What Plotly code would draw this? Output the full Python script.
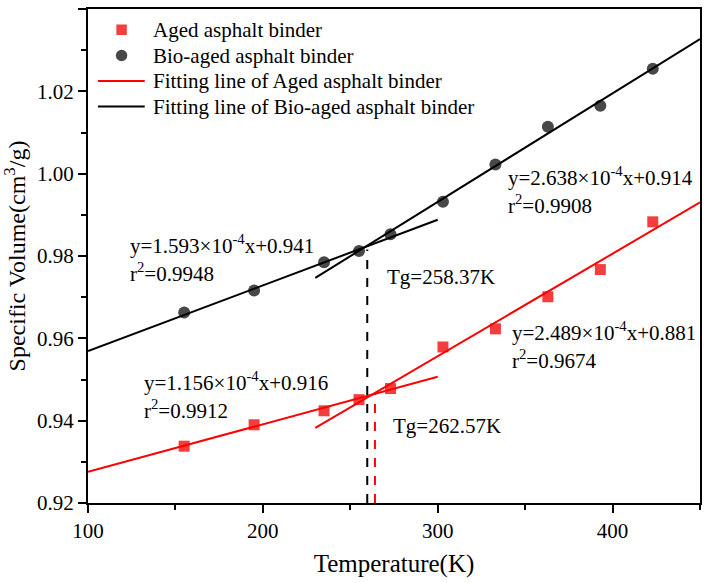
import plotly.graph_objects as go

# ---- data ----
temps = [155, 195, 235, 255, 273, 303, 333, 363, 393, 423]
aged = [0.9338, 0.9390, 0.9424, 0.9451, 0.9478, 0.9579, 0.9623, 0.9701, 0.9767, 0.9883]
bio_aged = [0.9663, 0.9716, 0.9785, 0.9812, 0.9853, 0.9932, 1.0022, 1.0114, 1.0165, 1.0255]

# fitting lines: (slope, intercept, x_start, x_end)
aged_fit_low = (1.156e-4, 0.916, 100, 300)
aged_fit_high = (2.489e-4, 0.881, 230, 450)
bio_fit_low = (1.593e-4, 0.941, 100, 300)
bio_fit_high = (2.638e-4, 0.914, 230, 450)

# Tg markers: (drawn x, top y)
tg_bio = (259.7, 0.9816)
tg_aged = (264.1, 0.9465)

legend_names = ["Aged asphalt binder", "Bio-aged asphalt binder",
                "Fitting line of Aged asphalt binder", "Fitting line of Bio-aged asphalt binder"]

FONT = "Liberation Serif"
RED_M = "#F23E3E"
GREY_M = "#484848"
BLACK = "#000000"

# plot-area geometry (pixels) used only for placing the legend
L, T, W, H = 88, 9, 615, 494


def px(xp):
    return (xp - L) / W


def py(yp):
    return 1 - (yp - T) / H


def fit_xy(*segs):
    xs, ys = [], []
    for k, b, x0, x1 in segs:
        xs += [x0, x1, None]
        ys += [k * x0 + b, k * x1 + b, None]
    return xs, ys


fig = go.Figure()
fig.add_trace(go.Scatter(x=temps, y=aged, mode="markers", name=legend_names[0],
                         marker=dict(symbol="square", size=11, color=RED_M)))
fig.add_trace(go.Scatter(x=temps, y=bio_aged, mode="markers", name=legend_names[1],
                         marker=dict(symbol="circle", size=12, color=GREY_M)))
ax, ay = fit_xy(aged_fit_low, aged_fit_high)
fig.add_trace(go.Scatter(x=ax, y=ay, mode="lines", name=legend_names[2],
                         line=dict(color="#FF0000", width=2)))
bx, by = fit_xy(bio_fit_low, bio_fit_high)
fig.add_trace(go.Scatter(x=bx, y=by, mode="lines", name=legend_names[3],
                         line=dict(color=BLACK, width=2)))

fig.add_trace(go.Scatter(x=[tg_bio[0], tg_bio[0]], y=[0.92, tg_bio[1]], mode="lines",
                         line=dict(color=BLACK, width=2, dash="dash")))
fig.add_trace(go.Scatter(x=[tg_aged[0], tg_aged[0]], y=[0.92, tg_aged[1]], mode="lines",
                         line=dict(color="#FF0000", width=2, dash="dash")))

notes = [
    ("y=1.593×10<sup>-4</sup>x+0.941", 122.8, 0.9827),
    ("r<sup>2</sup>=0.9948", 122.8, 0.9759),
    ("y=1.156×10<sup>-4</sup>x+0.916", 130.6, 0.9495),
    ("r<sup>2</sup>=0.9912", 130.6, 0.9427),
    ("y=2.638×10<sup>-4</sup>x+0.914", 339.2, 0.9993),
    ("r<sup>2</sup>=0.9908", 339.2, 0.9925),
    ("y=2.489×10<sup>-4</sup>x+0.881", 341.3, 0.9617),
    ("r<sup>2</sup>=0.9674", 341.3, 0.9548),
    ("Tg=258.37K", 270.1, 0.9750),
    ("Tg=262.57K", 273.0, 0.9386),
]
for txt, x, y in notes:
    fig.add_annotation(x=x, y=y, text=txt, showarrow=False, xanchor="left", yanchor="middle",
                       font=dict(family=FONT, size=21, color=BLACK))

# ---- legend (drawn in the top-left corner of the plot area) ----
rows = [30, 55.5, 81, 106.5]
fig.add_shape(type="rect", xref="paper", yref="paper",
              x0=px(116.5), x1=px(127), y0=py(rows[0] - 5.5), y1=py(rows[0] + 5),
              fillcolor=RED_M, line=dict(width=0))
fig.add_shape(type="circle", xref="paper", yref="paper",
              x0=px(116), x1=px(127.5), y0=py(rows[1] - 5.75), y1=py(rows[1] + 5.75),
              fillcolor=GREY_M, line=dict(width=0))
fig.add_shape(type="line", xref="paper", yref="paper",
              x0=px(98), x1=px(145), y0=py(rows[2]), y1=py(rows[2]),
              line=dict(color="#FF0000", width=2))
fig.add_shape(type="line", xref="paper", yref="paper",
              x0=px(98), x1=px(145), y0=py(rows[3]), y1=py(rows[3]),
              line=dict(color=BLACK, width=2))
for name, r in zip(legend_names, rows):
    fig.add_annotation(xref="paper", yref="paper", x=px(151), y=py(r), text=name,
                       showarrow=False, xanchor="left", yanchor="middle",
                       font=dict(family=FONT, size=21, color=BLACK))

axis_common = dict(showline=True, linewidth=2, linecolor=BLACK, mirror=True,
                   ticks="outside", ticklen=8, tickwidth=2, tickcolor=BLACK,
                   showgrid=False, zeroline=False,
                   tickfont=dict(family=FONT, size=21, color=BLACK))

fig.update_xaxes(range=[100, 450], dtick=100, tick0=100,
                 minor=dict(ticks="outside", ticklen=5, tickwidth=2, dtick=50, tick0=100,
                            tickcolor=BLACK, showgrid=False),
                 title=dict(text="Temperature(K)", font=dict(family=FONT, size=25, color=BLACK),
                            standoff=12),
                 **axis_common)
fig.update_yaxes(range=[0.92, 1.04], dtick=0.02, tick0=0.92, tickformat=".2f",
                 minor=dict(ticks="outside", ticklen=5, tickwidth=2, dtick=0.01, tick0=0.92,
                            tickcolor=BLACK, showgrid=False),
                 title=dict(text="Specific Volume(cm<sup>3</sup>/g)",
                            font=dict(family=FONT, size=24, color=BLACK), standoff=10),
                 **axis_common)

fig.update_layout(
    width=704, height=583,
    margin=dict(l=88, r=2, t=9, b=80),
    plot_bgcolor="#FFFFFF", paper_bgcolor="#FFFFFF",
    font=dict(family=FONT, color=BLACK),
    showlegend=False,
)

fig.write_html("out.html")
